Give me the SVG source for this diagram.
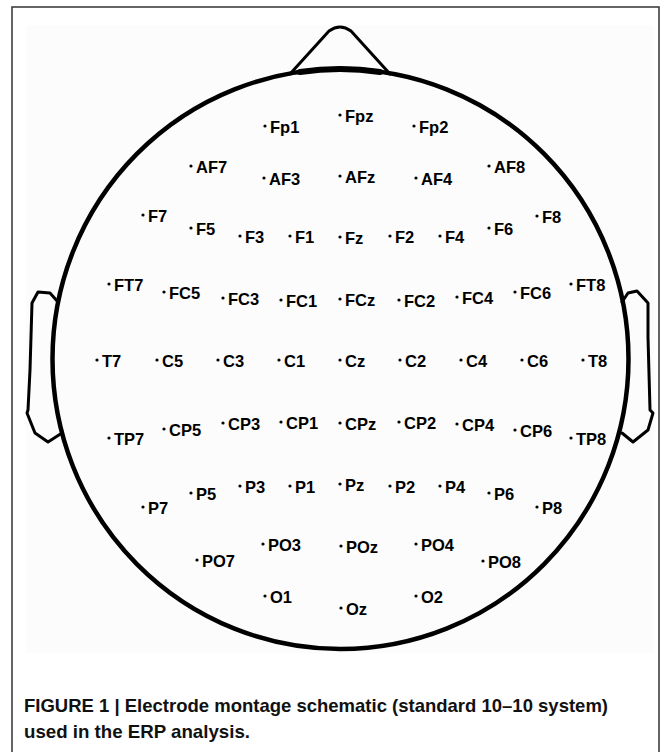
<svg xmlns="http://www.w3.org/2000/svg" width="670" height="752" viewBox="0 0 670 752">
<style>
.outline{fill:none;stroke:#000;stroke-linejoin:round;stroke-linecap:round}
.lbl{font-family:"Liberation Sans",Arial,sans-serif;font-weight:bold;font-size:16.5px;fill:#000}
.cap{font-family:"Liberation Sans Narrow","Liberation Sans",Arial,sans-serif;font-weight:bold;font-size:19px;fill:#111}
</style>
<defs>
<circle id="dot" r="1.6" fill="#000"/>
</defs>
<rect x="0" y="0" width="670" height="752" fill="#fff"/>
<rect x="12" y="7" width="647" height="770" fill="none" stroke="#333" stroke-width="1.5"/>
<rect x="26" y="25" width="628" height="628" fill="#fcfcfc"/>
<g id="head">
<g id="ear-left"><path class="outline" stroke-width="3" d="M58,302 L50,293 L38,292 L32,303 L30,370 L28,410 L27,413 L35,433 L48,442 L62,433"/></g>
<g id="ear-right"><path class="outline" stroke-width="3" d="M622,302 L628,293 L637,291 L648,303 L648,337 L650,410 L653,413 L648,430 L633,442 L622,433"/></g>
<g id="nose"><path class="outline" stroke-width="3" d="M290,74 L329,31 Q340,23 351,31 L390,74"/></g>
<g id="scalp"><ellipse class="outline" cx="340.5" cy="359" rx="288" ry="290" stroke-width="4.5"/>
<path class="outline" stroke-width="6" d="M300,72 Q340,66 380,72"/></g>
</g>
<g id="connectors"></g>
<g id="electrodes">
<g id="Fp1" transform="translate(265,126)"><use href="#dot"/><text class="lbl" x="5" y="6.5">Fp1</text></g>
<g id="Fpz" transform="translate(340,115)"><use href="#dot"/><text class="lbl" x="5" y="6.5">Fpz</text></g>
<g id="Fp2" transform="translate(414,126)"><use href="#dot"/><text class="lbl" x="5" y="6.5">Fp2</text></g>
<g id="AF7" transform="translate(191,166)"><use href="#dot"/><text class="lbl" x="5" y="6.5">AF7</text></g>
<g id="AF3" transform="translate(264,178)"><use href="#dot"/><text class="lbl" x="5" y="6.5">AF3</text></g>
<g id="AFz" transform="translate(340,176)"><use href="#dot"/><text class="lbl" x="5" y="6.5">AFz</text></g>
<g id="AF4" transform="translate(416,178)"><use href="#dot"/><text class="lbl" x="5" y="6.5">AF4</text></g>
<g id="AF8" transform="translate(489,166)"><use href="#dot"/><text class="lbl" x="5" y="6.5">AF8</text></g>
<g id="F7" transform="translate(143,215)"><use href="#dot"/><text class="lbl" x="5" y="6.5">F7</text></g>
<g id="F5" transform="translate(191,228)"><use href="#dot"/><text class="lbl" x="5" y="6.5">F5</text></g>
<g id="F3" transform="translate(240,236)"><use href="#dot"/><text class="lbl" x="5" y="6.5">F3</text></g>
<g id="F1" transform="translate(290,236)"><use href="#dot"/><text class="lbl" x="5" y="6.5">F1</text></g>
<g id="Fz" transform="translate(340,237)"><use href="#dot"/><text class="lbl" x="5" y="6.5">Fz</text></g>
<g id="F2" transform="translate(390,236)"><use href="#dot"/><text class="lbl" x="5" y="6.5">F2</text></g>
<g id="F4" transform="translate(440,236)"><use href="#dot"/><text class="lbl" x="5" y="6.5">F4</text></g>
<g id="F6" transform="translate(489,228)"><use href="#dot"/><text class="lbl" x="5" y="6.5">F6</text></g>
<g id="F8" transform="translate(537,216)"><use href="#dot"/><text class="lbl" x="5" y="6.5">F8</text></g>
<g id="FT7" transform="translate(109,284)"><use href="#dot"/><text class="lbl" x="5" y="6.5">FT7</text></g>
<g id="FC5" transform="translate(164,292)"><use href="#dot"/><text class="lbl" x="5" y="6.5">FC5</text></g>
<g id="FC3" transform="translate(223,298)"><use href="#dot"/><text class="lbl" x="5" y="6.5">FC3</text></g>
<g id="FC1" transform="translate(281,300)"><use href="#dot"/><text class="lbl" x="5" y="6.5">FC1</text></g>
<g id="FCz" transform="translate(340,299)"><use href="#dot"/><text class="lbl" x="5" y="6.5">FCz</text></g>
<g id="FC2" transform="translate(399,300)"><use href="#dot"/><text class="lbl" x="5" y="6.5">FC2</text></g>
<g id="FC4" transform="translate(457,297)"><use href="#dot"/><text class="lbl" x="5" y="6.5">FC4</text></g>
<g id="FC6" transform="translate(515,292)"><use href="#dot"/><text class="lbl" x="5" y="6.5">FC6</text></g>
<g id="FT8" transform="translate(571,284)"><use href="#dot"/><text class="lbl" x="5" y="6.5">FT8</text></g>
<g id="T7" transform="translate(97,360)"><use href="#dot"/><text class="lbl" x="5" y="6.5">T7</text></g>
<g id="C5" transform="translate(157,360)"><use href="#dot"/><text class="lbl" x="5" y="6.5">C5</text></g>
<g id="C3" transform="translate(218,360)"><use href="#dot"/><text class="lbl" x="5" y="6.5">C3</text></g>
<g id="C1" transform="translate(279,360)"><use href="#dot"/><text class="lbl" x="5" y="6.5">C1</text></g>
<g id="Cz" transform="translate(340,360)"><use href="#dot"/><text class="lbl" x="5" y="6.5">Cz</text></g>
<g id="C2" transform="translate(400,360)"><use href="#dot"/><text class="lbl" x="5" y="6.5">C2</text></g>
<g id="C4" transform="translate(461,360)"><use href="#dot"/><text class="lbl" x="5" y="6.5">C4</text></g>
<g id="C6" transform="translate(522,360)"><use href="#dot"/><text class="lbl" x="5" y="6.5">C6</text></g>
<g id="T8" transform="translate(583,360)"><use href="#dot"/><text class="lbl" x="5" y="6.5">T8</text></g>
<g id="TP7" transform="translate(109,438)"><use href="#dot"/><text class="lbl" x="5" y="6.5">TP7</text></g>
<g id="CP5" transform="translate(164,429)"><use href="#dot"/><text class="lbl" x="5" y="6.5">CP5</text></g>
<g id="CP3" transform="translate(223,423)"><use href="#dot"/><text class="lbl" x="5" y="6.5">CP3</text></g>
<g id="CP1" transform="translate(281,422)"><use href="#dot"/><text class="lbl" x="5" y="6.5">CP1</text></g>
<g id="CPz" transform="translate(340,423)"><use href="#dot"/><text class="lbl" x="5" y="6.5">CPz</text></g>
<g id="CP2" transform="translate(399,422)"><use href="#dot"/><text class="lbl" x="5" y="6.5">CP2</text></g>
<g id="CP4" transform="translate(457,424)"><use href="#dot"/><text class="lbl" x="5" y="6.5">CP4</text></g>
<g id="CP6" transform="translate(515,430)"><use href="#dot"/><text class="lbl" x="5" y="6.5">CP6</text></g>
<g id="TP8" transform="translate(571,438)"><use href="#dot"/><text class="lbl" x="5" y="6.5">TP8</text></g>
<g id="P7" transform="translate(143,507)"><use href="#dot"/><text class="lbl" x="5" y="6.5">P7</text></g>
<g id="P5" transform="translate(191,493)"><use href="#dot"/><text class="lbl" x="5" y="6.5">P5</text></g>
<g id="P3" transform="translate(240,486)"><use href="#dot"/><text class="lbl" x="5" y="6.5">P3</text></g>
<g id="P1" transform="translate(290,486)"><use href="#dot"/><text class="lbl" x="5" y="6.5">P1</text></g>
<g id="Pz" transform="translate(340,484)"><use href="#dot"/><text class="lbl" x="5" y="6.5">Pz</text></g>
<g id="P2" transform="translate(390,486)"><use href="#dot"/><text class="lbl" x="5" y="6.5">P2</text></g>
<g id="P4" transform="translate(440,486)"><use href="#dot"/><text class="lbl" x="5" y="6.5">P4</text></g>
<g id="P6" transform="translate(489,493)"><use href="#dot"/><text class="lbl" x="5" y="6.5">P6</text></g>
<g id="P8" transform="translate(537,507)"><use href="#dot"/><text class="lbl" x="5" y="6.5">P8</text></g>
<g id="PO7" transform="translate(197,560)"><use href="#dot"/><text class="lbl" x="5" y="6.5">PO7</text></g>
<g id="PO3" transform="translate(263,544)"><use href="#dot"/><text class="lbl" x="5" y="6.5">PO3</text></g>
<g id="POz" transform="translate(341,546)"><use href="#dot"/><text class="lbl" x="5" y="6.5">POz</text></g>
<g id="PO4" transform="translate(416,544)"><use href="#dot"/><text class="lbl" x="5" y="6.5">PO4</text></g>
<g id="PO8" transform="translate(483,561)"><use href="#dot"/><text class="lbl" x="5" y="6.5">PO8</text></g>
<g id="O1" transform="translate(265,596)"><use href="#dot"/><text class="lbl" x="5" y="6.5">O1</text></g>
<g id="Oz" transform="translate(341,608)"><use href="#dot"/><text class="lbl" x="5" y="6.5">Oz</text></g>
<g id="O2" transform="translate(416,596)"><use href="#dot"/><text class="lbl" x="5" y="6.5">O2</text></g>
</g>
<g id="caption">
<text class="cap" x="24" y="712" textLength="584" lengthAdjust="spacingAndGlyphs">FIGURE 1 | Electrode montage schematic (standard 10–10 system)</text>
<text class="cap" x="24" y="738" textLength="226" lengthAdjust="spacingAndGlyphs">used in the ERP analysis.</text>
</g>
</svg>
